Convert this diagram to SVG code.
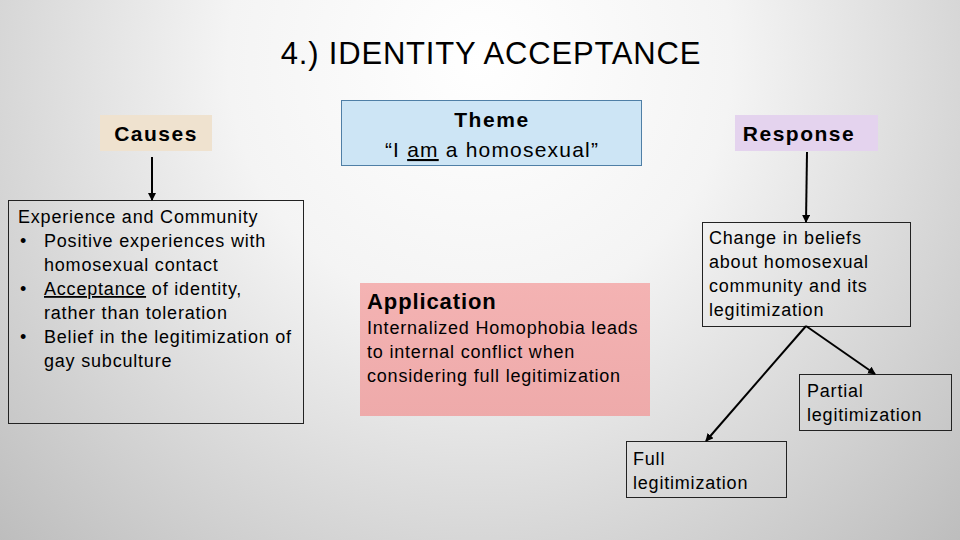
<svg xmlns="http://www.w3.org/2000/svg" width="960" height="540" viewBox="0 0 960 540">
<defs>
<radialGradient id="bg" cx="480" cy="60" r="720" gradientUnits="userSpaceOnUse">
<stop offset="0" stop-color="#ffffff"/>
<stop offset="0.35" stop-color="#f4f4f4"/>
<stop offset="1" stop-color="#b8b8b8"/>
</radialGradient>
<linearGradient id="pink" x1="0" y1="0" x2="0" y2="1">
<stop offset="0" stop-color="#f4b3b3"/>
<stop offset="1" stop-color="#eeaaaa"/>
</linearGradient>
<marker id="ah" markerWidth="8" markerHeight="8" refX="7" refY="4" orient="auto" markerUnits="userSpaceOnUse">
<path d="M0,0 L8,4 L0,8 z" fill="#000"/>
</marker>
<style>
text{font-family:"Liberation Sans",Arial,sans-serif;fill:#000}
.b{font-weight:bold}
.t{font-size:18px;letter-spacing:0.8px}
.box{fill:none;stroke:#222;stroke-width:1}
.c{stroke:#000;stroke-width:2;fill:none;marker-end:url(#ah)}
</style>
</defs>
<rect width="960" height="540" fill="url(#bg)"/>
<text x="491" y="64" font-size="31" letter-spacing="0.8" text-anchor="middle">4.) IDENTITY ACCEPTANCE</text>

<g id="causes">
<rect x="100" y="115" width="112" height="36" fill="#efe2cf"/>
<text x="156" y="141" font-size="21" letter-spacing="1.5" class="b" text-anchor="middle">Causes</text>
</g>

<g id="experience">
<rect x="8.5" y="200.5" width="295" height="223" class="box"/>
<text class="t" x="18" y="223">Experience and Community</text>
<text class="t" x="20" y="247">•</text><text class="t" x="44" y="247">Positive experiences with</text>
<text class="t" x="44" y="271">homosexual contact</text>
<text class="t" x="20" y="295">•</text><text class="t" x="44" y="295"><tspan text-decoration="underline">Acceptance</tspan> of identity,</text>
<text class="t" x="44" y="319">rather than toleration</text>
<text class="t" x="20" y="343">•</text><text class="t" x="44" y="343">Belief in the legitimization of</text>
<text class="t" x="44" y="367">gay subculture</text>
</g>

<g id="theme">
<rect x="341.5" y="100.5" width="300" height="65" fill="#cde5f5" stroke="#4f7fa6" stroke-width="1"/>
<text x="492" y="127" font-size="21" letter-spacing="1.6" class="b" text-anchor="middle">Theme</text>
<text x="492" y="157" font-size="21" letter-spacing="1.2" text-anchor="middle">“I <tspan text-decoration="underline">am</tspan> a homosexual”</text>
</g>

<g id="application">
<rect x="360" y="283" width="290" height="133" fill="url(#pink)"/>
<text x="367" y="309" font-size="22" letter-spacing="0.9" class="b">Application</text>
<text class="t" x="367" y="334">Internalized Homophobia leads</text>
<text class="t" x="367" y="358">to internal conflict when</text>
<text class="t" x="367" y="382">considering full legitimization</text>
</g>

<g id="response">
<rect x="735" y="115" width="143" height="36" fill="#e4d3ee"/>
<text x="799" y="141" font-size="21" letter-spacing="1.5" class="b" text-anchor="middle">Response</text>
</g>

<g id="change">
<rect x="702.5" y="222.5" width="208" height="104" class="box"/>
<text class="t" x="709" y="244">Change in beliefs</text>
<text class="t" x="709" y="268">about homosexual</text>
<text class="t" x="709" y="292">community and its</text>
<text class="t" x="709" y="316">legitimization</text>
</g>

<g id="partial">
<rect x="799.5" y="374.5" width="152" height="56" class="box"/>
<text class="t" x="807" y="397">Partial</text>
<text class="t" x="807" y="421">legitimization</text>
</g>

<g id="full">
<rect x="626.5" y="441.5" width="160" height="56" class="box"/>
<text class="t" x="633" y="465">Full</text>
<text class="t" x="633" y="489">legitimization</text>
</g>

<g id="connectors">
<line x1="152" y1="157" x2="152" y2="200" class="c"/>
<line x1="807" y1="152" x2="806" y2="222" class="c"/>
<line x1="806" y1="326" x2="706" y2="441" class="c"/>
<line x1="806" y1="326" x2="875" y2="374" class="c"/>
</g>
</svg>
